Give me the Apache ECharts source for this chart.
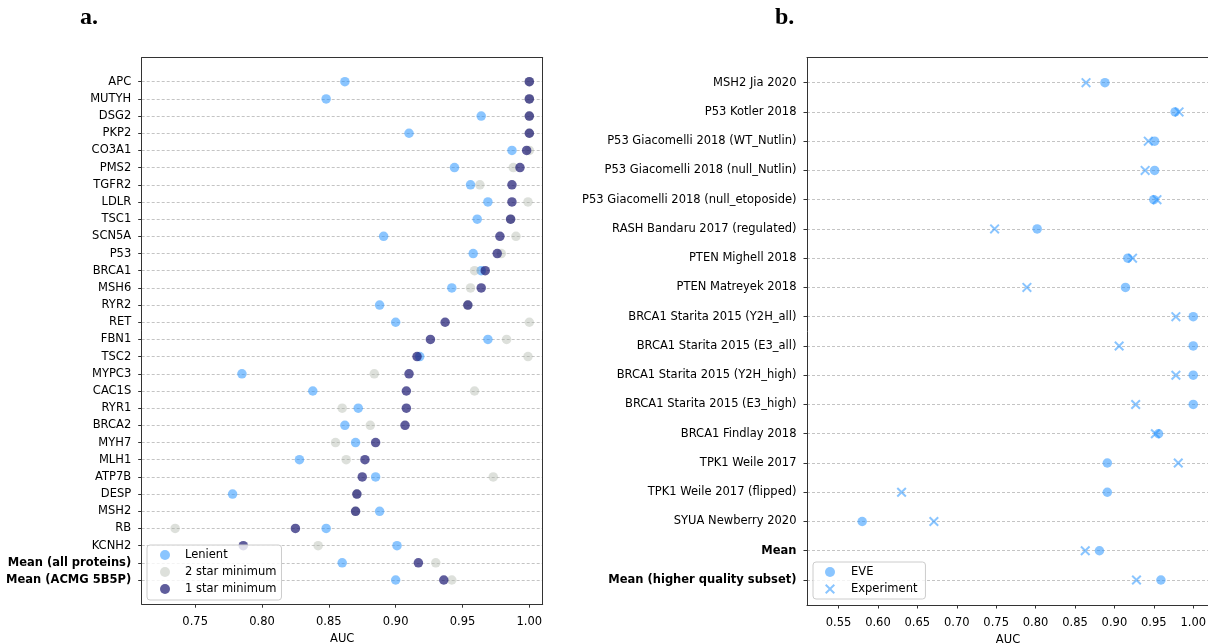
<!DOCTYPE html>
<html>
<head>
<meta charset="utf-8">
<script src="https://cdn.jsdelivr.net/npm/echarts@6/dist/echarts.min.js"></script>
<style>html,body{margin:0;padding:0;background:#fff}#c{width:1208px;height:644px}</style>
</head>
<body>
<div id="c"></div>
<script>
// ---- Panel a data ----
const genes = ['APC','MUTYH','DSG2','PKP2','CO3A1','PMS2','TGFR2','LDLR','TSC1','SCN5A','P53','BRCA1','MSH6','RYR2','RET','FBN1','TSC2','MYPC3','CAC1S','RYR1','BRCA2','MYH7','MLH1','ATP7B','DESP','MSH2','RB','KCNH2','Mean (all proteins)','Mean (ACMG 5B5P)'];
const lenient = [0.862,0.848,0.964,0.910,0.987,0.944,0.956,0.969,0.961,0.891,0.958,0.964,0.942,0.888,0.900,0.969,0.918,0.785,0.838,0.872,0.862,0.870,0.828,0.885,0.778,0.888,0.848,0.901,0.860,0.900];
const twoStar = [1.000,1.000,1.000,1.000,1.000,0.988,0.963,0.999,0.986,0.990,0.979,0.959,0.956,0.954,1.000,0.983,0.999,0.884,0.959,0.860,0.881,0.855,0.863,0.973,0.871,0.870,0.735,0.842,0.930,0.942];
const oneStar = [1.000,1.000,1.000,1.000,0.998,0.993,0.987,0.987,0.986,0.978,0.976,0.967,0.964,0.954,0.937,0.926,0.916,0.910,0.908,0.908,0.907,0.885,0.877,0.875,0.871,0.870,0.825,0.786,0.917,0.936];
const xTicksA = [0.75,0.80,0.85,0.90,0.95,1.00];

// ---- Panel b data ----
const datasets = ['MSH2 Jia 2020','P53 Kotler 2018','P53 Giacomelli 2018 (WT_Nutlin)','P53 Giacomelli 2018 (null_Nutlin)','P53 Giacomelli 2018 (null_etoposide)','RASH Bandaru 2017 (regulated)','PTEN Mighell 2018','PTEN Matreyek 2018','BRCA1 Starita 2015 (Y2H_all)','BRCA1 Starita 2015 (E3_all)','BRCA1 Starita 2015 (Y2H_high)','BRCA1 Starita 2015 (E3_high)','BRCA1 Findlay 2018','TPK1 Weile 2017','TPK1 Weile 2017 (flipped)','SYUA Newberry 2020','Mean','Mean (higher quality subset)'];
const eve = [0.888,0.977,0.951,0.951,0.950,0.802,0.917,0.914,1.000,1.000,1.000,1.000,0.956,0.891,0.891,0.580,0.881,0.959];
const experiment = [0.864,0.982,0.943,0.939,0.954,0.748,0.923,0.789,0.978,0.906,0.978,0.927,0.952,0.981,0.630,0.671,0.863,0.928];
const xTicksB = [0.55,0.60,0.65,0.70,0.75,0.80,0.85,0.90,0.95,1.00];

const boldLabels = ['Mean (all proteins)','Mean (ACMG 5B5P)','Mean','Mean (higher quality subset)'];

const FONT = 'DejaVu Sans';
const FS = 11.5;
const BLUE = 'rgba(30,144,255,0.65)';
const GRAY = 'rgba(169,177,166,0.5)';
const NAVY = 'rgba(20,18,110,0.85)';
const SPINE = {color: '#333', width: 1};
const XPATH = 'path://M0,1.4L1.4,0L5,3.6L8.6,0L10,1.4L6.4,5L10,8.6L8.6,10L5,6.4L1.4,10L0,8.6L3.6,5Z';

function frameX(gi, min, max, ticks) {
  return {
    gridIndex: gi, type: 'value', min: min, max: max, position: 'bottom',
    axisLine: {show: true, onZero: false, lineStyle: SPINE},
    axisTick: {show: true, length: 3.5, lineStyle: SPINE, customValues: ticks},
    axisLabel: {show: true, customValues: ticks, formatter: v => v.toFixed(2), fontFamily: FONT, fontSize: FS, color: '#000', margin: 12},
    splitLine: {show: false},
    name: 'AUC', nameLocation: 'middle', nameGap: 27.5,
    nameTextStyle: {fontFamily: FONT, fontSize: FS, color: '#000'}
  };
}
function lineOnly(gi, pos, min, max) {
  const a = {
    gridIndex: gi, type: 'value', position: pos,
    axisLine: {show: true, onZero: false, lineStyle: SPINE},
    axisTick: {show: false}, axisLabel: {show: false}, splitLine: {show: false}
  };
  if (min !== undefined) { a.min = min; a.max = max; }
  return a;
}
function hiddenX(gi, min, max) {
  return {gridIndex: gi, type: 'value', min: min, max: max, show: false};
}
function catY(gi, cats) {
  return {
    gridIndex: gi, type: 'category', data: cats, inverse: true, boundaryGap: false,
    axisLine: {show: false},
    axisTick: {show: true, length: 3.5, interval: 0, lineStyle: SPINE},
    axisLabel: {
      interval: 0, margin: 10.5, fontFamily: FONT, fontSize: FS, color: '#000',
      formatter: v => boldLabels.includes(v) ? '{b|' + v + '}' : v,
      rich: {b: {fontFamily: FONT, fontSize: FS, fontWeight: 'bold', color: '#000'}}
    },
    splitLine: {show: true, interval: 0, lineStyle: {color: '#b5b5b5', width: 0.8, type: [3, 2]}}
  };
}
function legendBox(left, top, names, pad, iw) {
  return {
    orient: 'vertical', left: left, top: top, data: names,
    backgroundColor: 'rgba(255,255,255,0.8)', borderColor: '#cccccc', borderWidth: 1, borderRadius: 3,
    padding: pad, itemWidth: iw, itemHeight: 10, itemGap: 3, selectedMode: false,
    textStyle: {fontFamily: FONT, fontSize: FS, color: '#000', lineHeight: 14}
  };
}

const chart = echarts.init(document.getElementById('c'), null, {renderer: 'canvas'});
chart.setOption({
  animation: false,
  backgroundColor: '#fff',
  title: [
    {text: 'a.', left: 80, top: 6, padding: 0, textStyle: {fontFamily: 'Liberation Serif', fontWeight: 'bold', fontSize: 24, color: '#000'}},
    {text: 'b.', left: 775, top: 6, padding: 0, textStyle: {fontFamily: 'Liberation Serif', fontWeight: 'bold', fontSize: 24, color: '#000'}}
  ],
  grid: [
    {left: 141.7, top: 57.7, width: 401, height: 546.5, outerBoundsMode: 'none', containLabel: false},
    {left: 141.7, top: 81.7, width: 401, height: 498.3, outerBoundsMode: 'none', containLabel: false},
    {left: 807, top: 57.7, width: 402, height: 547.3, outerBoundsMode: 'none', containLabel: false},
    {left: 807, top: 82.7, width: 402, height: 497.3, outerBoundsMode: 'none', containLabel: false}
  ],
  xAxis: [
    frameX(0, 0.71, 1.01, xTicksA),
    lineOnly(0, 'top', 0.71, 1.01),
    hiddenX(1, 0.71, 1.01),
    frameX(2, 0.51, 1.02, xTicksB),
    lineOnly(2, 'top', 0.51, 1.02),
    hiddenX(3, 0.51, 1.02)
  ],
  yAxis: [
    lineOnly(0, 'left'),
    lineOnly(0, 'right'),
    catY(1, genes),
    lineOnly(2, 'left'),
    catY(3, datasets)
  ],
  legend: [
    legendBox(147, 545, ['Lenient', '2 star minimum', '1 star minimum'], [3, 5, 4, 13], 30),
    legendBox(813, 562, ['EVE', 'Experiment'], [3, 8, 3, 12], 32)
  ],
  series: [
    {name: 'Lenient', type: 'scatter', xAxisIndex: 2, yAxisIndex: 2, symbol: 'circle', symbolSize: 9.5,
     itemStyle: {color: BLUE}, data: genes.map((g, i) => [lenient[i], g])},
    {name: '2 star minimum', type: 'scatter', xAxisIndex: 2, yAxisIndex: 2, symbol: 'circle', symbolSize: 9.5,
     itemStyle: {color: GRAY}, data: genes.map((g, i) => [twoStar[i], g])},
    {name: '1 star minimum', type: 'scatter', xAxisIndex: 2, yAxisIndex: 2, symbol: 'circle', symbolSize: 9.5,
     itemStyle: {color: NAVY}, data: genes.map((g, i) => [oneStar[i], g])},
    {name: 'EVE', type: 'scatter', xAxisIndex: 5, yAxisIndex: 4, symbol: 'circle', symbolSize: 9.5,
     itemStyle: {color: BLUE}, data: datasets.map((d, i) => [eve[i], d])},
    {name: 'Experiment', type: 'scatter', xAxisIndex: 5, yAxisIndex: 4, symbol: XPATH, symbolSize: 10,
     itemStyle: {color: BLUE}, data: datasets.map((d, i) => [experiment[i], d])}
  ]
});
</script>
</body>
</html>
